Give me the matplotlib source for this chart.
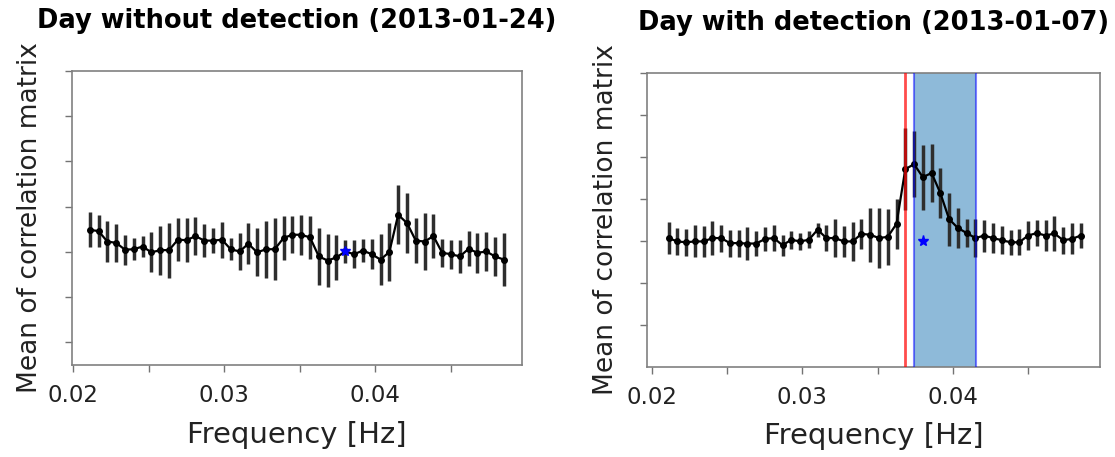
import numpy as np
import matplotlib
matplotlib.use("Agg")
import matplotlib.pyplot as plt

OUTPUT_FILE = "out.png"

# frequency bins (Hz), same grid for both days
freqs = np.linspace(0.0211, 0.0485, 48)

# day without detection (2013-01-24)
mean_no_det = [
    0.449, 0.446, 0.423, 0.420, 0.405, 0.406, 0.412, 0.399, 0.404, 0.404,
    0.427, 0.426, 0.435, 0.425, 0.425, 0.427, 0.406, 0.401, 0.418, 0.399,
    0.406, 0.406, 0.431, 0.438, 0.438, 0.432, 0.390, 0.381, 0.388, 0.401,
    0.395, 0.403, 0.395, 0.383, 0.400, 0.482, 0.464, 0.425, 0.423, 0.435,
    0.398, 0.395, 0.390, 0.407, 0.398, 0.401, 0.390, 0.383,
]
std_no_det = [
    0.039, 0.035, 0.045, 0.042, 0.033, 0.024, 0.024, 0.044, 0.054, 0.061,
    0.048, 0.049, 0.042, 0.037, 0.027, 0.040, 0.024, 0.041, 0.045, 0.053,
    0.063, 0.069, 0.049, 0.041, 0.044, 0.047, 0.063, 0.059, 0.049, 0.025,
    0.031, 0.025, 0.033, 0.057, 0.065, 0.065, 0.066, 0.050, 0.063, 0.048,
    0.031, 0.032, 0.036, 0.039, 0.044, 0.044, 0.044, 0.059,
]

# day with detection (2013-01-07)
mean_det = [
    0.407, 0.399, 0.397, 0.399, 0.399, 0.407, 0.407, 0.395, 0.395, 0.394,
    0.394, 0.405, 0.407, 0.390, 0.403, 0.399, 0.403, 0.427, 0.407, 0.407,
    0.399, 0.399, 0.417, 0.415, 0.407, 0.410, 0.441, 0.571, 0.583, 0.552,
    0.562, 0.514, 0.452, 0.431, 0.419, 0.407, 0.413, 0.407, 0.402, 0.397,
    0.397, 0.413, 0.419, 0.413, 0.418, 0.402, 0.405, 0.413,
]
std_det = [
    0.038, 0.033, 0.032, 0.038, 0.036, 0.040, 0.032, 0.032, 0.032, 0.039,
    0.030, 0.029, 0.030, 0.025, 0.021, 0.020, 0.020, 0.017, 0.030, 0.046,
    0.037, 0.047, 0.036, 0.064, 0.071, 0.067, 0.059, 0.097, 0.079, 0.077,
    0.068, 0.059, 0.063, 0.047, 0.034, 0.045, 0.038, 0.036, 0.034, 0.030,
    0.031, 0.034, 0.032, 0.036, 0.042, 0.032, 0.037, 0.030,
]

# reference marker (blue star) and detection band
star_freq = 0.0380
star_value_no_det = 0.401
star_value_det = 0.399
peak_freq = 0.03684
band_start = 0.03742
band_end = 0.04151

TITLE_NO_DET = "Day without detection (2013-01-24)"
TITLE_DET = "Day with detection (2013-01-07)"

plt.rcParams["font.family"] = ["DejaVu Sans"]


def style_axes(ax, ylim, ylabel_x, xlabel_y):
    ax.set_xlim(0.01993, 0.0497)
    ax.set_ylim(*ylim)
    ax.set_xticks([0.02, 0.03, 0.04])
    ax.set_xticklabels(["0.02", "0.03", "0.04"])
    ax.set_xticks([0.025, 0.035, 0.045], minor=True)
    ax.set_yticks(np.arange(0.2, 0.81, 0.1))
    ax.set_yticklabels([])
    ax.tick_params(axis="both", which="both", direction="out", length=5,
                   width=1.0, color="0.45", labelsize=16.5, labelcolor="#222222")
    ax.tick_params(axis="x", which="both", pad=9)
    for spine in ax.spines.values():
        spine.set_color("0.5")
        spine.set_linewidth(1.2)
    ax.set_xlabel("Frequency [Hz]", fontsize=21, color="#222222")
    ax.set_ylabel("Mean of correlation matrix", fontsize=19, color="#222222")
    ax.yaxis.set_label_coords(ylabel_x, 0.5)
    ax.xaxis.set_label_coords(0.5, xlabel_y)


def draw_series(ax, means, stds):
    ax.errorbar(freqs, means, yerr=stds, color="black", lw=1.6,
                marker="o", ms=4, ecolor="#2e2e2e", elinewidth=2.5,
                capsize=0, zorder=2)


def main():
    fig = plt.figure(figsize=(11.15, 4.57), dpi=100)
    ax1 = fig.add_axes([0.0646, 0.2013, 0.4036, 0.6433])
    ax2 = fig.add_axes([0.5803, 0.1969, 0.4063, 0.6433])

    # left: no detection
    draw_series(ax1, mean_no_det, std_no_det)
    ax1.plot([star_freq], [star_value_no_det], marker="*", color="blue",
             ms=7, ls="none", zorder=2.5)
    ax1.set_title(TITLE_NO_DET, fontsize=18.5, fontweight="bold", pad=31)
    style_axes(ax1, (0.15, 0.8), -0.064, -0.19)

    # right: detection band
    ax2.axvspan(band_start, band_end, facecolor="#1f77b4", alpha=0.5,
                lw=0, zorder=1)
    draw_series(ax2, mean_det, std_det)
    ax2.axvline(band_start, color="blue", alpha=0.5, lw=1.5, zorder=3)
    ax2.axvline(band_end, color="blue", alpha=0.5, lw=1.5, zorder=3)
    ax2.axvline(peak_freq, color="red", alpha=0.7, lw=2, zorder=3)
    ax2.plot([star_freq], [star_value_det], marker="*", color="blue",
             ms=8, ls="none", zorder=4)
    ax2.set_title(TITLE_DET, fontsize=18.5, fontweight="bold", pad=31)
    style_axes(ax2, (0.1, 0.8), -0.062, -0.187)
    ax2.set_xlim(0.01967, 0.04979)

    fig.savefig(OUTPUT_FILE, dpi=100)
    plt.close(fig)


if __name__ == "__main__":
    main()
